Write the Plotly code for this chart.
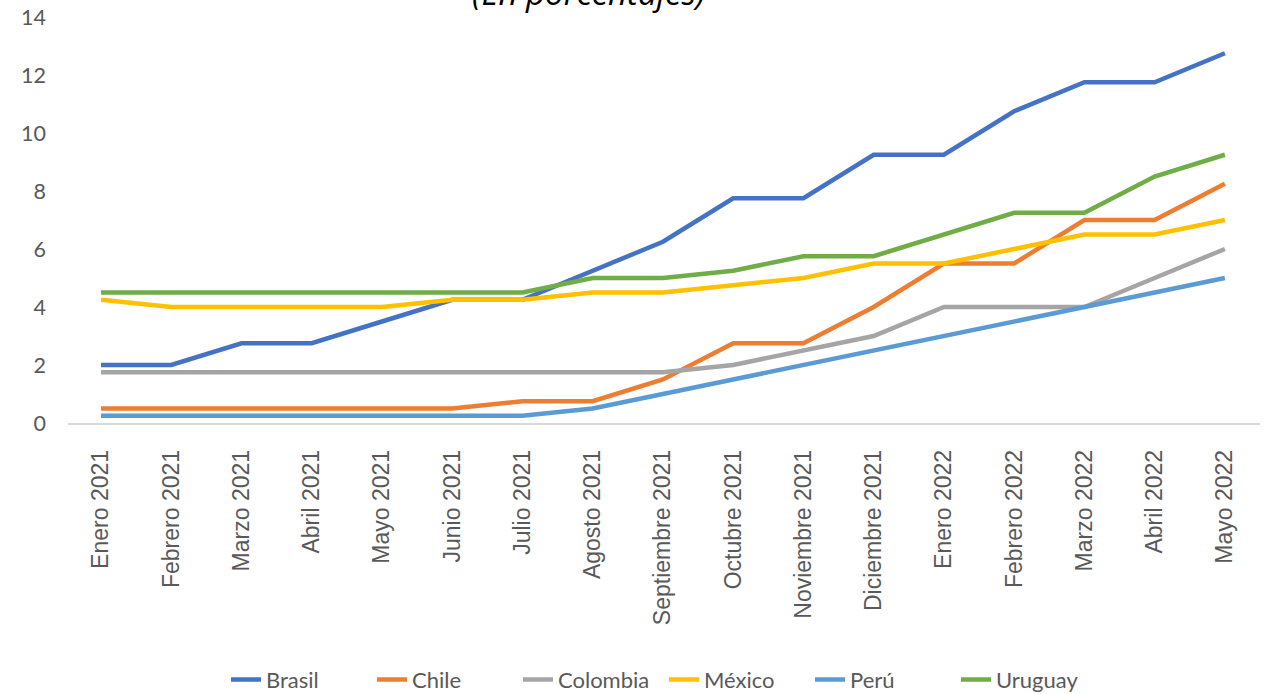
import plotly.graph_objects as go

categories = ["Enero 2021", "Febrero 2021", "Marzo 2021", "Abril 2021", "Mayo 2021",
              "Junio 2021", "Julio 2021", "Agosto 2021", "Septiembre 2021", "Octubre 2021",
              "Noviembre 2021", "Diciembre 2021", "Enero 2022", "Febrero 2022",
              "Marzo 2022", "Abril 2022", "Mayo 2022"]

brasil = [2, 2, 2.75, 2.75, 3.5, 4.25, 4.25, 5.25, 6.25, 7.75, 7.75, 9.25, 9.25, 10.75, 11.75, 11.75, 12.75]
chile = [0.5, 0.5, 0.5, 0.5, 0.5, 0.5, 0.75, 0.75, 1.5, 2.75, 2.75, 4, 5.5, 5.5, 7, 7, 8.25]
colombia = [1.75, 1.75, 1.75, 1.75, 1.75, 1.75, 1.75, 1.75, 1.75, 2, 2.5, 3, 4, 4, 4, 5, 6]
mexico = [4.25, 4, 4, 4, 4, 4.25, 4.25, 4.5, 4.5, 4.75, 5, 5.5, 5.5, 6, 6.5, 6.5, 7]
peru = [0.25, 0.25, 0.25, 0.25, 0.25, 0.25, 0.25, 0.5, 1, 1.5, 2, 2.5, 3, 3.5, 4, 4.5, 5]
uruguay = [4.5, 4.5, 4.5, 4.5, 4.5, 4.5, 4.5, 5, 5, 5.25, 5.75, 5.75, 6.5, 7.25, 7.25, 8.5, 9.25]

series = [
    ("Brasil", brasil, "#4472C4"),
    ("Chile", chile, "#ED7D31"),
    ("Colombia", colombia, "#A5A5A5"),
    ("México", mexico, "#FFC000"),
    ("Perú", peru, "#5B9BD5"),
    ("Uruguay", uruguay, "#70AD47"),
]

fig = go.Figure()
for name, vals, color in series:
    fig.add_trace(go.Scatter(x=categories, y=vals, mode="lines", name=name,
                             line=dict(color=color, width=4.5)))

fig.update_layout(
    width=1268, height=694,
    margin=dict(l=68, r=8, t=17, b=271, autoexpand=False),
    paper_bgcolor="white", plot_bgcolor="white",
    showlegend=True,
    legend=dict(orientation="h", x=0.5, xanchor="center", y=-0.632, yanchor="middle",
                font=dict(family="Lato", size=22, color="#595959"),
                itemwidth=30, entrywidth=101, entrywidthmode="pixels", tracegroupgap=0),
    annotations=[dict(text="<i>(En porcentajes)</i>", x=(588 - 68) / 1192, xref="paper",
                      y=1.0, yref="paper", xanchor="center", yanchor="bottom",
                      showarrow=False, font=dict(family="Open Sans", size=33, color="#000000"))],
)
fig.update_xaxes(type="category", tickangle=-90, showgrid=False, showline=True,
                 linecolor="#D9D9D9", linewidth=1.5, ticks="", ticklabelstandoff=16,
                 tickfont=dict(family="Liberation Sans", size=23, color="#595959"),
                 range=[-0.47, 16.5], zeroline=False)
fig.update_yaxes(range=[0, 14], dtick=2, showgrid=False, showline=False, zeroline=False,
                 ticks="", ticklabelstandoff=21,
                 tickfont=dict(family="Lato", size=21.5, color="#595959"))

fig.write_html("out.html")
